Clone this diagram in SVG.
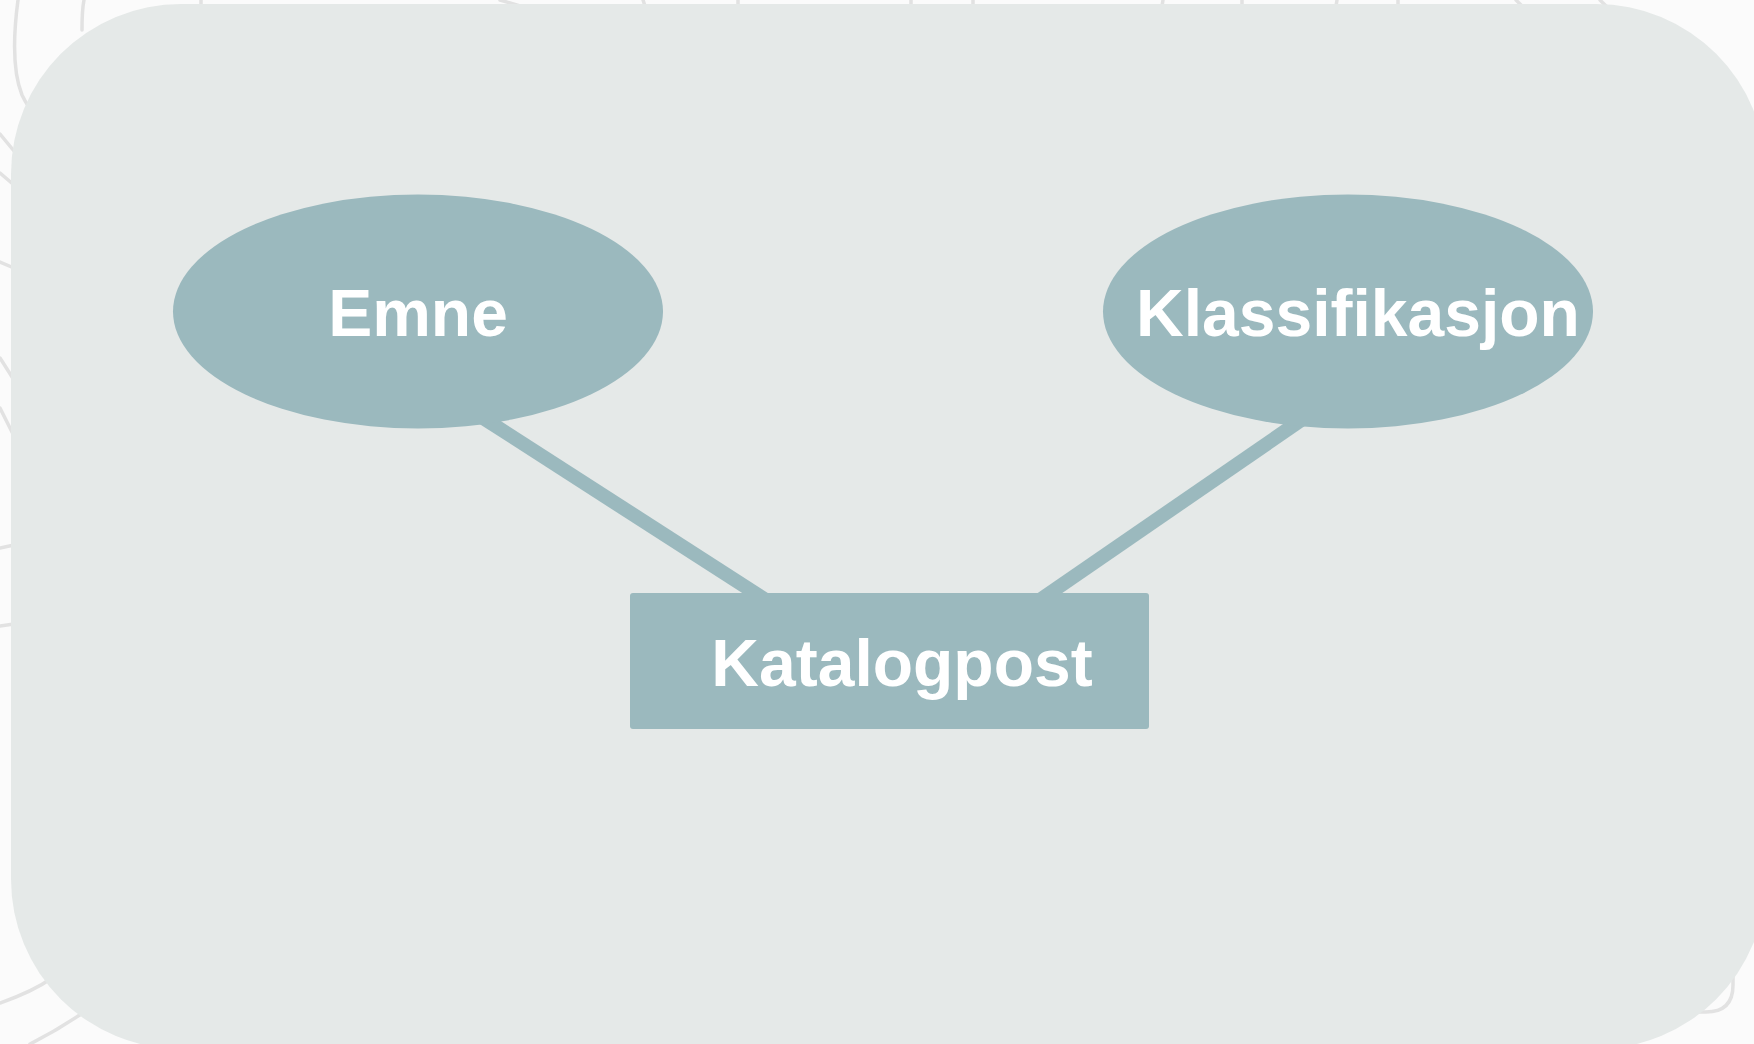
<svg xmlns="http://www.w3.org/2000/svg" width="1754" height="1044" viewBox="0 0 1754 1044">
  <style>
    .decor { fill: none; stroke: #e2e2e2; stroke-width: 3.5; stroke-linecap: round; }
    .node { fill: #9bb9be; }
    .edge { stroke: #9bb9be; stroke-width: 14; stroke-linecap: butt; fill: none; }
    .label { fill: #ffffff; font-family: "Liberation Sans", Arial, Helvetica, sans-serif; font-weight: bold; font-size: 66px; }
  </style>
  <rect x="0" y="0" width="1754" height="1044" fill="#fbfbfb"/>
  <g id="decorations">
    <path class="decor" d="M18,0 C14,30 12,70 22,95 C30,112 40,120 52,130"/>
    <path class="decor" d="M84,0 C82,10 82,20 82,30"/>
    <path class="decor" d="M0,134 L14,151"/>
    <path class="decor" d="M0,173 L14,185"/>
    <path class="decor" d="M0,262 L14,268"/>
    <path class="decor" d="M0,358 L14,380"/>
    <path class="decor" d="M0,408 L14,436"/>
    <path class="decor" d="M0,548 L14,545"/>
    <path class="decor" d="M0,626 L14,624"/>
    <path class="decor" d="M0,1003 C20,996 38,988 52,978"/>
    <path class="decor" d="M30,1044 C50,1034 70,1022 90,1008"/>
    <path class="decor" d="M1733,958 L1733,985 Q1733,1012 1706,1012 L1690,1012"/>
    <path class="decor" d="M201,0 L201,6"/>
    <path class="decor" d="M500,0 L520,6"/>
    <path class="decor" d="M643,0 L645,6"/>
    <path class="decor" d="M738,0 L738,6"/>
    <path class="decor" d="M911,0 L911,6"/>
    <path class="decor" d="M973,0 L973,6"/>
    <path class="decor" d="M1163,0 L1162,6"/>
    <path class="decor" d="M1242,0 L1242,6"/>
    <path class="decor" d="M1337,0 L1336,6"/>
    <path class="decor" d="M1398,0 L1398,6"/>
    <path class="decor" d="M1516,0 L1522,6"/>
    <path class="decor" d="M1600,0 L1606,6"/>
  </g>
  <g id="container">
    <rect x="11" y="4" width="1755" height="1045" rx="170" ry="170" fill="#e5e9e8"/>
  </g>
  <g id="connectors">
    <line class="edge" x1="470.7" y1="410" x2="781.4" y2="610"/>
    <line class="edge" x1="1315.8" y1="410" x2="1025.3" y2="610"/>
  </g>
  <g id="node-emne">
    <ellipse class="node" cx="418" cy="311.5" rx="245" ry="117"/>
    <text class="label" x="418" y="336" text-anchor="middle">Emne</text>
  </g>
  <g id="node-klassifikasjon">
    <ellipse class="node" cx="1348" cy="311.5" rx="245" ry="117"/>
    <text class="label" x="1358" y="336" text-anchor="middle">Klassifikasjon</text>
  </g>
  <g id="node-katalogpost">
    <rect class="node" x="630" y="593" width="519" height="136" rx="3" ry="3"/>
    <text class="label" x="902" y="686" text-anchor="middle">Katalogpost</text>
  </g>
</svg>
